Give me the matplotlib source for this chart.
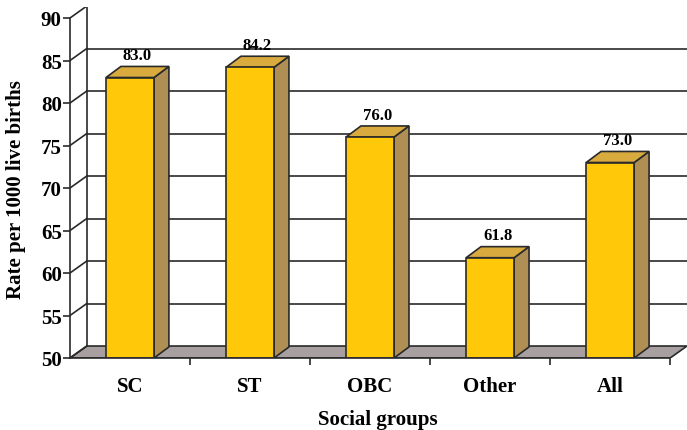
import matplotlib
matplotlib.use("Agg")
import matplotlib.pyplot as plt
from matplotlib.patches import Polygon

groups = ["SC", "ST", "OBC", "Other", "All"]
rates = [83.0, 84.2, 76.0, 61.8, 73.0]
y_ticks = [50, 55, 60, 65, 70, 75, 80, 85, 90]

FRONT = "#FFC90A"
TOP = "#D9AA3E"
SIDE = "#B08F55"
FLOOR = "#A8A0A0"
EDGE = "#2a2a2a"

# depth of the chart box and of each bar (x in category units, y in rate units)
WALL_DX, WALL_DY = 0.14, 1.41
BAR_DX, BAR_DY = 0.124, 1.3
HALF_W = 0.2
Y0, Y1 = 50, 90

plt.rcParams["font.family"] = ["Liberation Serif", "DejaVu Serif"]
plt.rcParams["font.weight"] = "bold"

fig = plt.figure(figsize=(6.87, 4.31), dpi=100)
ax = fig.add_axes([70 / 687, 72 / 431, 617 / 687, 351 / 431])
n = len(groups)
x_right = n - 0.5 + WALL_DX
ax.set_xlim(-0.5, x_right)
ax.set_ylim(Y0, Y0 + (Y1 - Y0) * 351 / 340)

for s in ["top", "right"]:
    ax.spines[s].set_visible(False)
ax.spines["left"].set_bounds(Y0, Y1)
ax.spines["bottom"].set_bounds(-0.5, n - 0.5)
for s in ["left", "bottom"]:
    ax.spines[s].set_color(EDGE)
    ax.spines[s].set_linewidth(1.2)
    ax.spines[s].set_zorder(5)

ax.set_yticks(y_ticks)
ax.set_yticklabels([str(t) for t in y_ticks], fontsize=15, fontweight="bold")
ax.tick_params(axis="y", length=5, width=1.2, color=EDGE, pad=1)
ax.set_xticks(range(n))
ax.set_xticklabels(groups, fontsize=15, fontweight="bold")
ax.set_xticks([i + 0.5 for i in range(n)], minor=True)
ax.tick_params(axis="x", which="major", length=0, pad=13)
ax.tick_params(axis="x", which="minor", length=5, width=1.2, color=EDGE)

# floor
ax.add_patch(Polygon([(-0.5, Y0), (n - 0.5, Y0), (n - 0.5 + WALL_DX, Y0 + WALL_DY),
                      (-0.5 + WALL_DX, Y0 + WALL_DY)],
                     closed=True, facecolor=FLOOR, edgecolor=EDGE, lw=1.2, zorder=1))

# back wall gridlines and the side wall diagonals
bx = -0.5 + WALL_DX
for t in y_ticks:
    ax.plot([-0.5, bx], [t, t + WALL_DY], color=EDGE, lw=1.2, zorder=2)
    if t > Y0:
        ax.plot([bx, x_right], [t + WALL_DY, t + WALL_DY], color=EDGE, lw=1.2, zorder=2)
ax.plot([bx, bx], [Y0 + WALL_DY, Y1 + WALL_DY], color=EDGE, lw=1.2, zorder=2)

# 3D bars
for i, v in enumerate(rates):
    l, r = i - HALF_W, i + HALF_W
    ax.add_patch(Polygon([(r, Y0), (r + BAR_DX, Y0 + BAR_DY), (r + BAR_DX, v + BAR_DY), (r, v)],
                         closed=True, facecolor=SIDE, edgecolor=EDGE, lw=1.2, zorder=3))
    ax.add_patch(Polygon([(l, v), (r, v), (r + BAR_DX, v + BAR_DY), (l + BAR_DX, v + BAR_DY)],
                         closed=True, facecolor=TOP, edgecolor=EDGE, lw=1.2, zorder=3))
    ax.add_patch(Polygon([(l, Y0), (r, Y0), (r, v), (l, v)],
                         closed=True, facecolor=FRONT, edgecolor=EDGE, lw=1.2, zorder=4))
    ax.text(i + BAR_DX / 2, v + BAR_DY + 0.4, f"{v:.1f}", ha="center", va="bottom",
            fontsize=12, fontweight="bold", zorder=6)

fig.text(378 / 687, 1 - 420 / 431, "Social groups", ha="center", va="center",
         fontsize=15, fontweight="bold")
fig.text(16 / 687, 1 - 190 / 431, "Rate per 1000 live births", ha="center", va="center",
         rotation=90, fontsize=15, fontweight="bold")

fig.savefig("out.png", dpi=100)
